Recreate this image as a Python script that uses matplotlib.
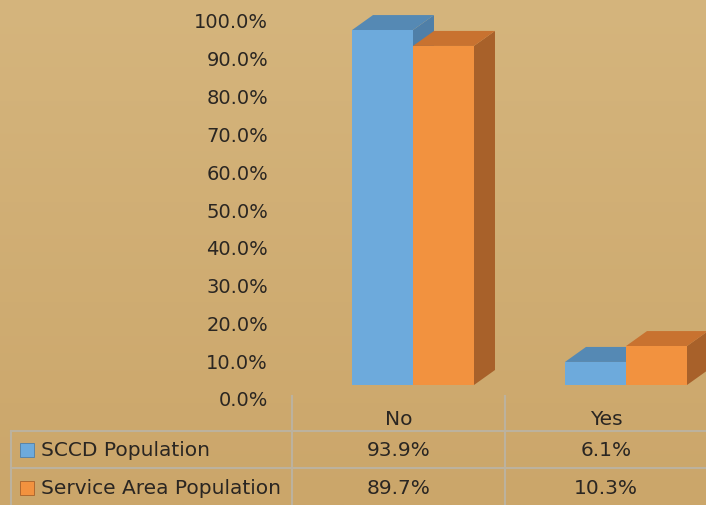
import numpy as np
import matplotlib
matplotlib.use("Agg")
import matplotlib.pyplot as plt
from matplotlib.patches import Polygon, Rectangle
from matplotlib.transforms import ScaledTranslation

categories = ["No", "Yes"]
series_names = ["SCCD Population", "Service Area Population"]
sccd = [93.9, 6.1]
service = [89.7, 10.3]
yticks = np.arange(0, 101, 10)

front_cols = ["#6DAADC", "#F2923F"]
top_cols = ["#5589B4", "#C87230"]
side_cols = ["#4F7FA8", "#A8612A"]
text_col = "#2A2622"
line_col = "#BCB29E"

W, H = 706, 506
fig = plt.figure(figsize=(W / 100, H / 100), dpi=100)

# background gradient
bg = fig.add_axes([0, 0, 1, 1], zorder=-2)
grad = np.linspace(0, 1, 256).reshape(-1, 1)
top_rgb = np.array([213, 181, 125]) / 255
bot_rgb = np.array([203, 166, 106]) / 255
img = top_rgb[None, None, :] * (1 - grad[:, :, None]) + bot_rgb[None, None, :] * grad[:, :, None]
bg.imshow(img, aspect="auto", extent=[0, 1, 0, 1])
bg.axis("off")

# main bar axes (front plane baseline at y=386 px, 3.78 px per %)
px_per_pct = 3.78
col_px = 213
ax = fig.add_axes([293 / W, (H - 386) / H, 413 / W, 386 / H])
ax.set_ylim(0, 386 / px_per_pct)
ax.set_xlim(-0.5, -0.5 + 413 / col_px)
ax.patch.set_alpha(0)
for s in ax.spines.values():
    s.set_visible(False)
ax.set_xticks([])
ax.set_yticks(yticks)
ax.set_yticklabels([f"{v:.1f}%" for v in yticks], fontsize=14, color=text_col)
ax.tick_params(axis="y", length=0, pad=18)
offset = ScaledTranslation(0, -13 / 100, fig.dpi_scale_trans)
for lbl in ax.get_yticklabels():
    lbl.set_transform(lbl.get_transform() + offset)

bw = 61 / col_px
dx = 21 / col_px
dy = 15 / px_per_pct
start = -47.5 / col_px
for i, cat in enumerate(categories):
    for j, vals in enumerate([sccd, service]):
        v = vals[i]
        x0 = i + start + j * bw
        side = Polygon([(x0 + bw, 0), (x0 + bw + dx, dy), (x0 + bw + dx, v + dy), (x0 + bw, v)],
                       closed=True, facecolor=side_cols[j], edgecolor="none")
        top = Polygon([(x0, v), (x0 + bw, v), (x0 + bw + dx, v + dy), (x0 + dx, v + dy)],
                      closed=True, facecolor=top_cols[j], edgecolor="none")
        ax.add_patch(side)
        ax.add_patch(top)
        ax.bar(x0, v, width=bw, align="edge", color=front_cols[j], edgecolor="none")

# data table (pixel layout)
tab = fig.add_axes([0, 0, 1, 1], zorder=-1)
tab.set_xlim(0, W)
tab.set_ylim(H, 0)
tab.axis("off")
lw = 1.5
tab.plot([11, W], [432, 432], color=line_col, lw=lw)
tab.plot([11, W], [469, 469], color=line_col, lw=lw)
tab.plot([11, 11], [432, H], color=line_col, lw=lw)
tab.plot([292, 292], [397, H], color=line_col, lw=lw)
tab.plot([505, 505], [397, H], color=line_col, lw=lw)

col_centers = [399, 606]
for cx, cat in zip(col_centers, categories):
    tab.text(cx, 420, cat, ha="center", va="center", fontsize=14.5, color=text_col)
row_y = [451, 489]
for j, (name, vals) in enumerate(zip(series_names, [sccd, service])):
    tab.add_patch(Rectangle((20, row_y[j] - 7), 14, 14, facecolor=front_cols[j],
                            edgecolor=side_cols[j], lw=0.6))
    tab.text(41, row_y[j], name, ha="left", va="center", fontsize=14.5, color=text_col)
    for cx, v in zip(col_centers, vals):
        tab.text(cx, row_y[j], f"{v:.1f}%", ha="center", va="center", fontsize=14.5, color=text_col)

fig.savefig("out.png", dpi=100)
